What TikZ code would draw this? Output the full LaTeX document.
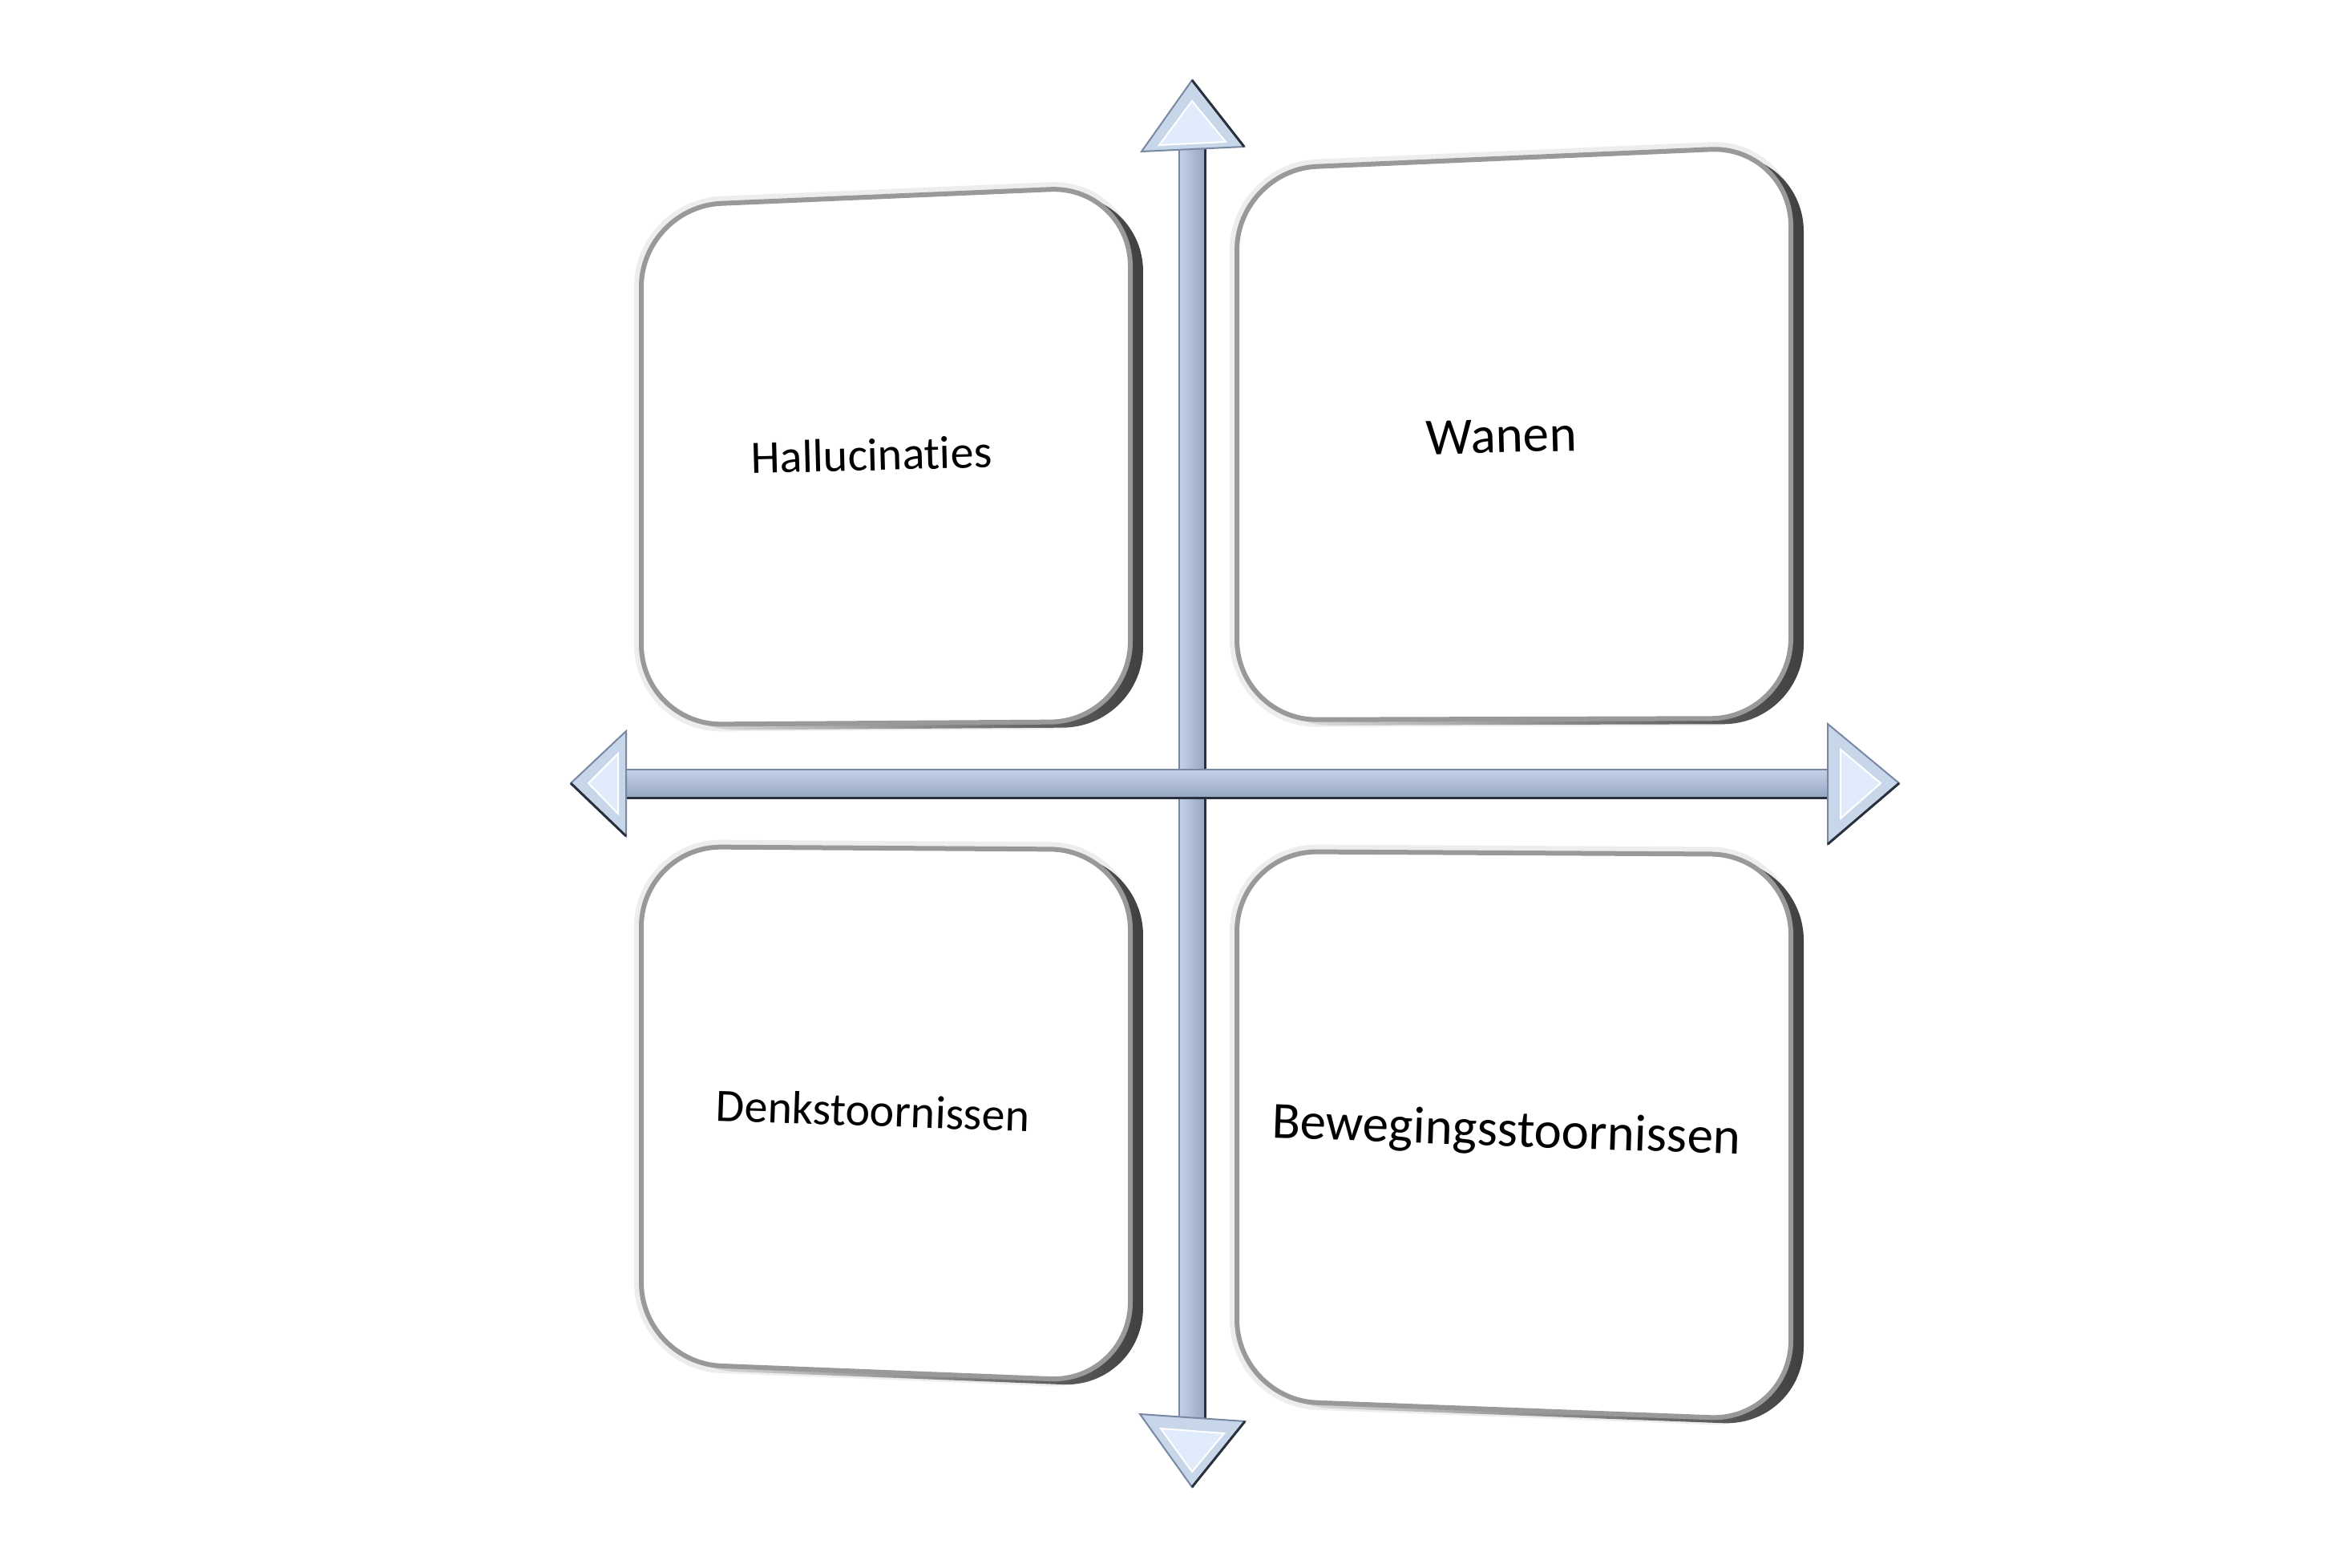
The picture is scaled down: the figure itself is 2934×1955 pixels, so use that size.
\documentclass[tikz,border=0pt]{standalone}
\usepackage{fontspec}
\setmainfont[RawFeature={-liga;-clig;-dlig}]{Carlito}
\definecolor{afill}{RGB}{224,236,252}
\definecolor{abevel}{RGB}{200,214,234}
\definecolor{aedge}{RGB}{120,136,162}
\definecolor{adark}{RGB}{40,48,62}
\definecolor{ashaftl}{RGB}{196,210,232}
\definecolor{ashaftr}{RGB}{150,166,192}
\tikzset{
  boxhalo/.style={draw=black!7, line width=18pt, rounded corners=100pt},
  boxext/.style={left color=black!8, right color=black!75, rounded corners=100pt},
  boxface/.style={fill=white, draw=black!40, line width=6pt, rounded corners=100pt},
  lbl/.style={font=\fontsize{58}{70}\selectfont, inner sep=0pt},
  lblbig/.style={font=\fontsize{65}{78}\selectfont, inner sep=0pt},
  headouter/.style={fill=abevel, draw=aedge, line width=2pt, line join=miter},
  headinner/.style={fill=afill, draw=white, line width=2pt, line join=miter},
}
\newcommand{\quadbox}[8]{%
  \path[boxhalo] (#1,#2) -- (#3,#4) -- (#5,#6) -- (#7,#8) -- cycle;
  \path[boxext, xshift=16pt, yshift=-7pt] (#1,#2) -- (#3,#4) -- (#5,#6) -- (#7,#8) -- cycle;
  \path[boxface] (#1,#2) -- (#3,#4) -- (#5,#6) -- (#7,#8) -- cycle;
}
\begin{document}
\begin{tikzpicture}[x=1pt,y=-1pt]
\useasboundingbox (0,0) rectangle (2934,1955);
\fill[white] (0,0) rectangle (2934,1955);

% boxes (corners: top-left, top-right, bottom-right, bottom-left)
\quadbox{800}{258}{1410}{232}{1410}{900}{800}{904}
\quadbox{1543}{212}{2234}{182}{2234}{896}{1543}{898}
\quadbox{800}{1056}{1410}{1060}{1410}{1724}{800}{1700}
\quadbox{1543}{1062}{2234}{1066}{2234}{1772}{1543}{1746}

% labels
\node[lbl, rotate=1.5] (hal) at (1087,567) {Hallucinaties};
\node[lblbig, rotate=1.5] (wan) at (1873,544) {Wanen};
\node[lbl, rotate=-2] (den) at (1089,1385) {Denkstoornissen};
\node[lblbig, rotate=-2] (bew) at (1879,1413) {Bewegingsstoornissen};

% vertical double arrow
\shade[left color=ashaftl, middle color=white, right color=ashaftr] (1471,186) rectangle (1503,1769);
\draw[aedge, line width=1.5pt] (1471,186) -- (1471,1769);
\draw[adark, line width=3pt] (1503,186) -- (1503,1769);
\path[headouter] (1487,100) -- (1552,183) -- (1424,189) -- cycle;
\draw[adark, line width=3pt] (1487,100) -- (1552,183);
\path[headinner] (1487,126) -- (1529,177) -- (1446,181) -- cycle;
\path[headouter] (1422,1764) -- (1553,1773) -- (1487,1855) -- cycle;
\draw[adark, line width=3pt] (1553,1773) -- (1487,1855);
\path[headinner] (1448,1782) -- (1527,1788) -- (1487,1836) -- cycle;

% horizontal double arrow
\shade[top color=ashaftl, middle color=white, bottom color=ashaftr] (779,960) rectangle (2282,995);
\draw[aedge, line width=1.5pt] (779,960) -- (2282,960);
\draw[adark, line width=3pt] (779,995) -- (2282,995);
\path[headouter] (2280,903) -- (2369,977) -- (2280,1053) -- cycle;
\draw[adark, line width=3pt] (2369,977) -- (2280,1053);
\path[headinner] (2296,935) -- (2346,977) -- (2296,1021) -- cycle;
\path[headouter] (781,912) -- (712,977) -- (781,1043) -- cycle;
\draw[adark, line width=3pt] (712,977) -- (781,1043);
\path[headinner] (771,940) -- (734,977) -- (771,1015) -- cycle;
\end{tikzpicture}
\end{document}
